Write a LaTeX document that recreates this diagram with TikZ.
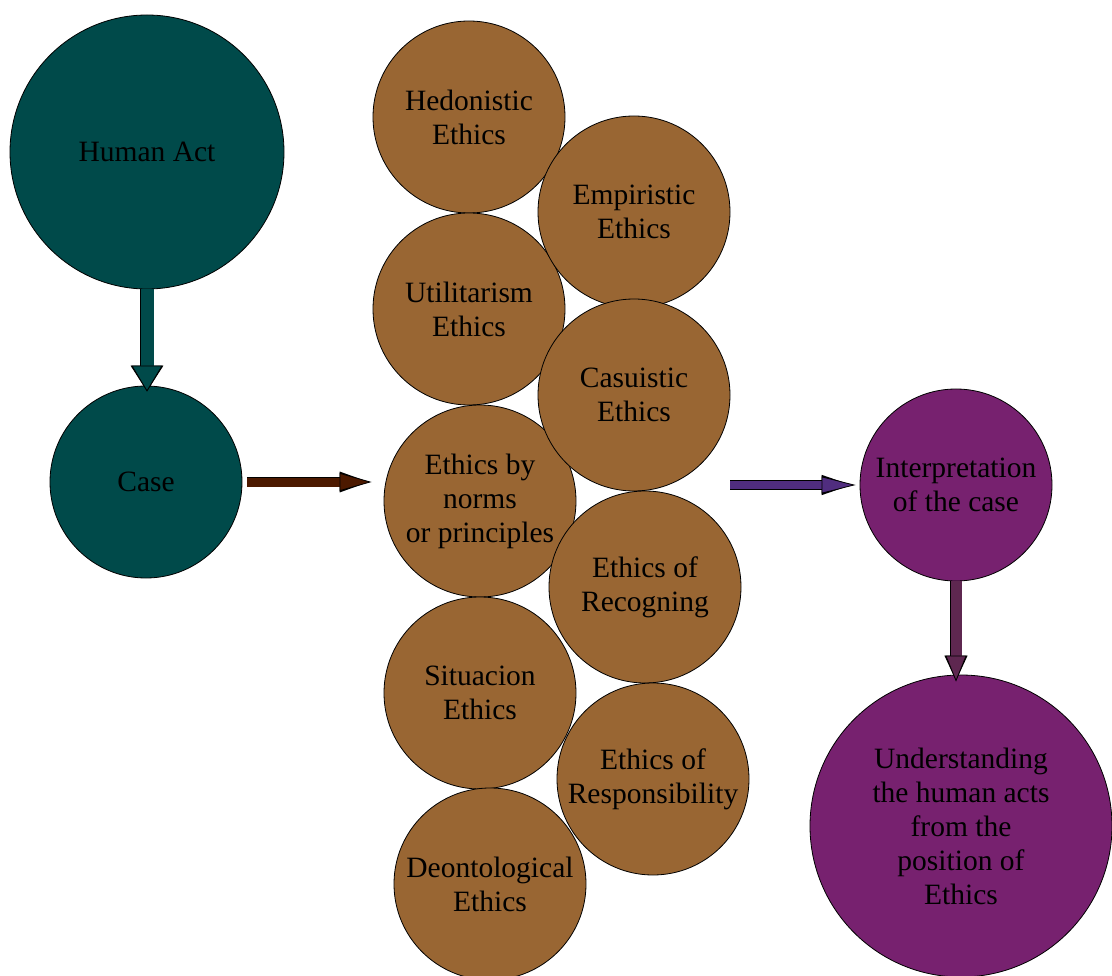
\documentclass[tikz,border=0pt]{standalone}
\usepackage{fontspec}
\setmainfont{Liberation Serif}
\usetikzlibrary{arrows.meta}
\definecolor{tealc}{HTML}{004A4A}
\definecolor{brownc}{HTML}{996633}
\definecolor{purplec}{HTML}{77216F}
\definecolor{arrbrown}{HTML}{4C1900}
\definecolor{arrpurple}{HTML}{502D7F}
\definecolor{arrplum}{HTML}{5E2750}
\tikzset{
  circ/.style={circle, draw=black, line width=0.8pt, inner sep=0pt, align=center,
    font=\fontsize{29.5}{34}\selectfont, text=black},
  small/.style={circ, minimum size=192pt},
  tealnode/.style={circ, fill=tealc},
  brownnode/.style={small, fill=brownc},
  purplenode/.style={circ, fill=purplec},
  barrow/.style n args={4}{line width=#2,
    preaction={draw=black, line width=#2+1.6pt, -{Triangle[length=#3, width=#4, color=black]}},
    draw=#1, -{Triangle[length=#3, width=#4, color=black, fill=#1, line width=0.8pt]}}
}
\begin{document}
\begin{tikzpicture}[x=1pt,y=-1pt]
\useasboundingbox (0,0) rectangle (1112,976);
\fill[white] (0,0) rectangle (1112,976);
% left nodes
\node[tealnode, minimum size=274pt] (human) at (147,152) {Human Act};
\node[tealnode, minimum size=192pt] (case) at (146,482) {Case};
% left column of ethics
\node[brownnode] (hed) at (469,117) {Hedonistic\\Ethics};
\node[brownnode] (util) at (469,309) {Utilitarism\\Ethics};
\node[brownnode] (norms) at (480,501) {Ethics by\\norms\\or principles};
\node[brownnode] (sit) at (480,693) {Situacion\\Ethics};
\node[brownnode] (deon) at (490,884) {Deontological\\Ethics};
% right column of ethics
\node[brownnode] (emp) at (634,212) {Empiristic\\Ethics};
\node[brownnode] (cas) at (634,395) {Casuistic\\Ethics};
\node[brownnode] (rec) at (645,587) {Ethics of\\Recogning};
\node[brownnode] (resp) at (653,779) {Ethics of\\Responsibility};
% right nodes
\node[purplenode, minimum size=192pt] (interp) at (956,485) {Interpretation\\of the case};
\node[purplenode, minimum size=302pt] (under) at (961,826) {Understanding\\the human acts\\from the\\position of\\Ethics};
% arrows
\coordinate (a1s) at (human.south);
\coordinate (a1e) at ([yshift=-6pt]a1s |- case.north);
\draw[barrow={tealc}{13pt}{26pt}{31pt}] (a1s) -- (a1e);
\coordinate (a2s) at ([xshift=5pt]case.east);
\coordinate (a2e) at ([xshift=-12pt]a2s -| norms.west);
\draw[barrow={arrbrown}{9pt}{32pt}{18pt}] (a2s) -- (a2e);
\coordinate (a3e) at ([xshift=-4pt]interp.west);
\coordinate (a3s) at (730,484 |- a3e);
\draw[barrow={arrpurple}{8pt}{34pt}{17pt}] (a3s) -- (a3e);
\coordinate (a4s) at (interp.south);
\coordinate (a4e) at ([yshift=-7pt]a4s |- under.north);
\draw[barrow={arrplum}{11pt}{26pt}{21pt}] (a4s) -- (a4e);
\end{tikzpicture}
\end{document}
